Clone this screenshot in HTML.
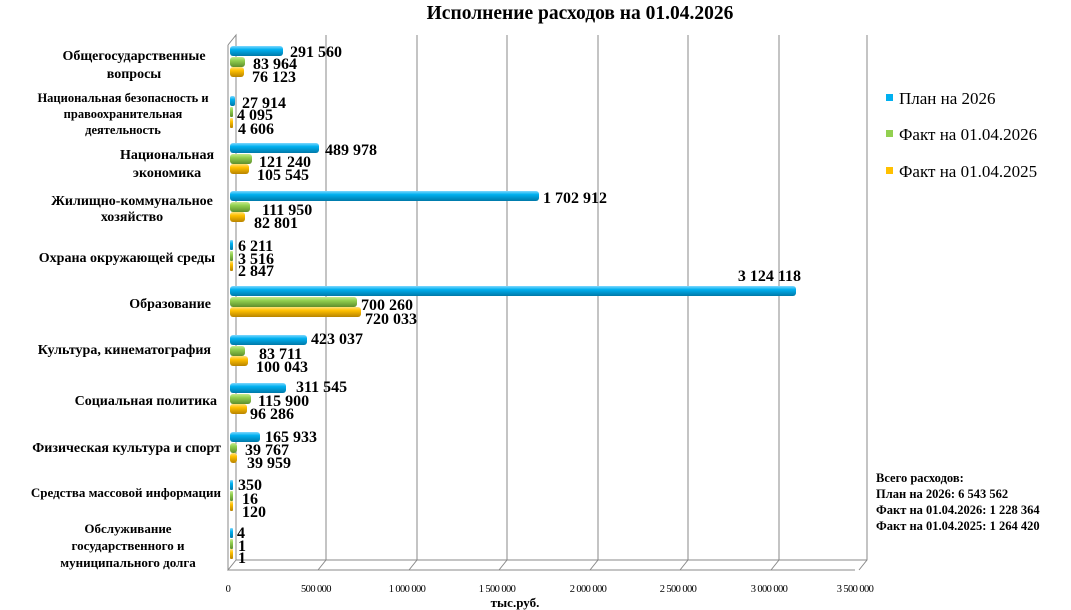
<!DOCTYPE html><html><head><meta charset="utf-8"><style>body{margin:0;background:#fff}svg{display:block}text{font-family:"Liberation Serif",serif}.b{font-weight:bold}.n{font-weight:normal}.t{font-family:"Liberation Sans",sans-serif;letter-spacing:-0.6px}</style></head><body>
<svg width="1071" height="610" viewBox="0 0 1071 610">
<defs>
<linearGradient id="b" x1="0" y1="0" x2="0" y2="1"><stop offset="0" stop-color="#7fd8ff"/><stop offset=".35" stop-color="#00b0f0"/><stop offset="1" stop-color="#0079a8"/></linearGradient>
<linearGradient id="g" x1="0" y1="0" x2="0" y2="1"><stop offset="0" stop-color="#c6ea90"/><stop offset=".35" stop-color="#92d050"/><stop offset="1" stop-color="#5e8e2c"/></linearGradient>
<linearGradient id="o" x1="0" y1="0" x2="0" y2="1"><stop offset="0" stop-color="#ffe27a"/><stop offset=".35" stop-color="#ffc000"/><stop offset="1" stop-color="#b88400"/></linearGradient>
</defs>
<text class="b" x="580" y="19" font-size="19.5" text-anchor="middle">Исполнение расходов на 01.04.2026</text>
<g stroke="#888" stroke-width="1" fill="none">
<path d="M228 45 L236 35 L236 560 L228 570 L855 570"/>
<path d="M236 560 L867 560"/>
<path d="M326 35V560L318 570M417 35V560L409 570M507 35V560L499 570M598 35V560L590 570M688 35V560L680 570M779 35V560L771 570M867 35V560L859 570"/>
<path d="M228 45V570"/>
</g>
<g class="n t" font-size="10.5" text-anchor="middle">
<text x="228" y="592">0</text><text x="316" y="592">500 000</text><text x="407" y="592">1 000 000</text><text x="497" y="592">1 500 000</text><text x="588" y="592">2 000 000</text><text x="678" y="592">2 500 000</text><text x="769" y="592">3 000 000</text><text x="855" y="592">3 500 000</text>
</g>
<text class="b" x="515" y="607" font-size="13" text-anchor="middle">тыс.руб.</text>
<g stroke-width=".5">
<rect x="230" y="46" width="53" height="10" rx="3" fill="url(#b)"/><rect x="230" y="57" width="15" height="10" rx="3" fill="url(#g)"/><rect x="230" y="67" width="14" height="10" rx="3" fill="url(#o)"/>
<rect x="230" y="96" width="5" height="10" rx="2" fill="url(#b)"/><rect x="230" y="107" width="3" height="10" rx="1" fill="url(#g)"/><rect x="230" y="118" width="3" height="10" rx="1" fill="url(#o)"/>
<rect x="230" y="143" width="89" height="10" rx="3" fill="url(#b)"/><rect x="230" y="154" width="22" height="10" rx="3" fill="url(#g)"/><rect x="230" y="164" width="19" height="10" rx="3" fill="url(#o)"/>
<rect x="230" y="191" width="309" height="10" rx="3" fill="url(#b)"/><rect x="230" y="202" width="20" height="10" rx="3" fill="url(#g)"/><rect x="230" y="212" width="15" height="10" rx="3" fill="url(#o)"/>
<rect x="230" y="240" width="3" height="10" rx="1" fill="url(#b)"/><rect x="230" y="251" width="3" height="10" rx="1" fill="url(#g)"/><rect x="230" y="261" width="3" height="10" rx="1" fill="url(#o)"/>
<rect x="230" y="286" width="566" height="10" rx="3" fill="url(#b)"/><rect x="230" y="297" width="127" height="10" rx="3" fill="url(#g)"/><rect x="230" y="307" width="131" height="10" rx="3" fill="url(#o)"/>
<rect x="230" y="335" width="77" height="10" rx="3" fill="url(#b)"/><rect x="230" y="346" width="15" height="10" rx="3" fill="url(#g)"/><rect x="230" y="356" width="18" height="10" rx="3" fill="url(#o)"/>
<rect x="230" y="383" width="56" height="10" rx="3" fill="url(#b)"/><rect x="230" y="394" width="21" height="10" rx="3" fill="url(#g)"/><rect x="230" y="404" width="17" height="10" rx="3" fill="url(#o)"/>
<rect x="230" y="432" width="30" height="10" rx="3" fill="url(#b)"/><rect x="230" y="443" width="7" height="10" rx="3" fill="url(#g)"/><rect x="230" y="453" width="7" height="10" rx="3" fill="url(#o)"/>
<rect x="230" y="480" width="3" height="10" rx="1" fill="url(#b)"/><rect x="230" y="491" width="3" height="10" rx="1" fill="url(#g)"/><rect x="230" y="501" width="3" height="10" rx="1" fill="url(#o)"/>
<rect x="230" y="528" width="3" height="10" rx="1" fill="url(#b)"/><rect x="230" y="539" width="3" height="10" rx="1" fill="url(#g)"/><rect x="230" y="549" width="3" height="10" rx="1" fill="url(#o)"/>
</g>
<g class="b" font-size="16">
<text x="290" y="57">291 560</text><text x="253" y="69">83 964</text><text x="252" y="82">76 123</text>
<text x="242" y="108">27 914</text><text x="237" y="120">4 095</text><text x="238" y="134">4 606</text>
<text x="325" y="155">489 978</text><text x="259" y="167">121 240</text><text x="257" y="180">105 545</text>
<text x="543" y="203">1 702 912</text><text x="262" y="215">111 950</text><text x="254" y="228">82 801</text>
<text x="238" y="251">6 211</text><text x="238" y="264">3 516</text><text x="238" y="276">2 847</text>
<text x="801" y="281" text-anchor="end">3 124 118</text><text x="361" y="310">700 260</text><text x="365" y="324">720 033</text>
<text x="311" y="344">423 037</text><text x="259" y="359">83 711</text><text x="256" y="372">100 043</text>
<text x="296" y="392">311 545</text><text x="258" y="406">115 900</text><text x="250" y="419">96 286</text>
<text x="265" y="442">165 933</text><text x="245" y="455">39 767</text><text x="247" y="468">39 959</text>
<text x="238" y="490">350</text><text x="242" y="504">16</text><text x="242" y="517">120</text>
<text x="237" y="538">4</text><text x="238" y="551">1</text><text x="238" y="563">1</text>
</g>
<g class="b" font-size="14" text-anchor="middle">
<text x="134" y="60">Общегосударственные</text><text x="134" y="78">вопросы</text>
<text x="123" y="102" font-size="12.5">Национальная безопасность и</text><text x="123" y="118" font-size="12.5">правоохранительная</text><text x="123" y="134" font-size="12.5">деятельность</text>
<text x="167" y="159">Национальная</text><text x="167" y="177">экономика</text>
<text x="132" y="205">Жилищно-коммунальное</text><text x="132" y="221">хозяйство</text>
<text x="215" y="262" text-anchor="end">Охрана окружающей среды</text>
<text x="211" y="308" text-anchor="end">Образование</text>
<text x="211" y="354" text-anchor="end">Культура, кинематография</text>
<text x="217" y="405" text-anchor="end">Социальная политика</text>
<text x="221" y="452" text-anchor="end">Физическая культура и спорт</text>
<text x="221" y="497" text-anchor="end" font-size="13">Средства массовой информации</text>
<text x="128" y="533" font-size="13">Обслуживание</text><text x="128" y="550" font-size="13">государственного и</text><text x="128" y="567" font-size="13">муниципального долга</text>
</g>
<rect x="886" y="94" width="7" height="7" fill="#00b0f0"/><rect x="886" y="130" width="7" height="7" fill="#92d050"/><rect x="886" y="167" width="7" height="7" fill="#ffc000"/>
<g class="n" font-size="17"><text x="899" y="104">План на 2026</text><text x="899" y="140">Факт на 01.04.2026</text><text x="899" y="177">Факт на 01.04.2025</text></g>
<g class="b" font-size="12.5"><text x="876" y="482">Всего расходов:</text><text x="876" y="498">План на 2026: 6 543 562</text><text x="876" y="514">Факт на 01.04.2026: 1 228 364</text><text x="876" y="530">Факт на 01.04.2025: 1 264 420</text></g>
</svg></body></html>
